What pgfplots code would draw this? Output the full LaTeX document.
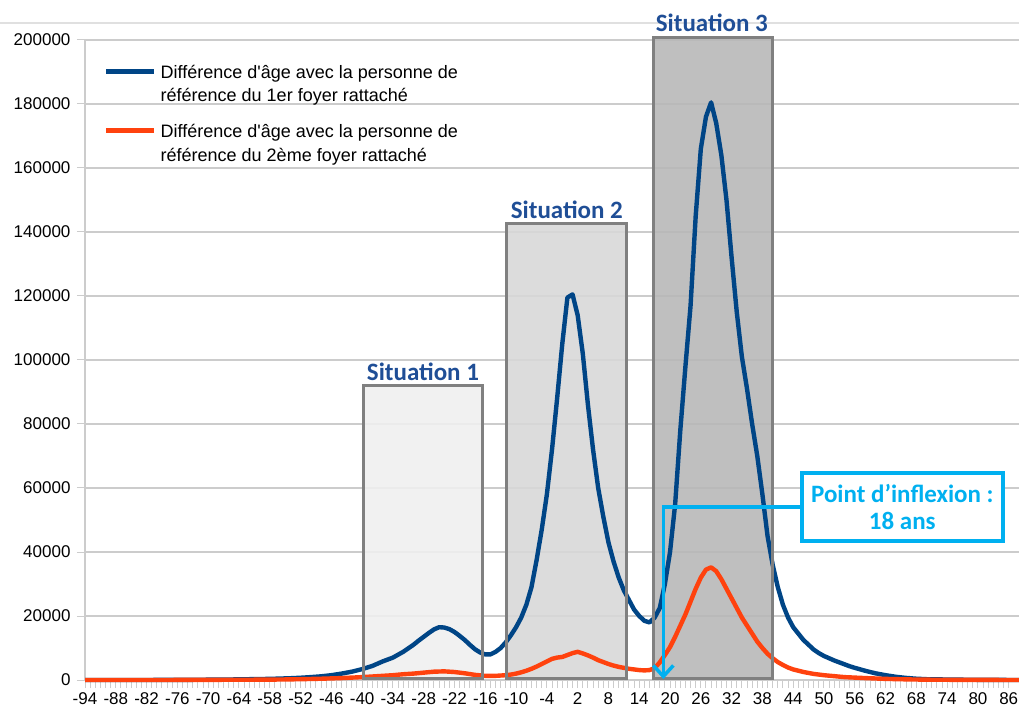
\documentclass[border=0pt]{standalone}
\usepackage{fontspec}
\setmainfont{Liberation Sans}
\newfontfamily\calibri{Carlito}
\usepackage{pgfplots}
\pgfplotsset{compat=1.18}
\usetikzlibrary{arrows.meta}
\definecolor{serA}{HTML}{004586}
\definecolor{serB}{HTML}{FF420E}
\definecolor{sitblue}{HTML}{1F4E96}
\definecolor{infl}{HTML}{00B0F0}
\definecolor{gridc}{HTML}{CCCCCC}
\definecolor{boxedge}{HTML}{808080}
\definecolor{fillA}{HTML}{EFEFEF}
\definecolor{fillB}{HTML}{D8D8D8}
\definecolor{fillC}{HTML}{B8B8B8}
\begin{document}
\begin{tikzpicture}
\path[use as bounding box] (0,0) rectangle (1019pt,715pt);
\draw[draw=black!12, line width=1.5pt] (0,692pt) -- (1019pt,692pt);
\begin{axis}[
  at={(85pt,35pt)}, anchor=south west,
  scale only axis, width=934pt, height=640pt,
  xmin=-94, xmax=88, ymin=0, ymax=200000,
  clip=false,
  axis lines=left,
  axis line style={-, draw=gridc, line width=1.3pt},
  ymajorgrids, grid style={draw=gridc, line width=1.3pt},
  xtick={-94,-88,...,86}, minor x tick num=5,
  xticklabels={-94,-88,-82,-76,-70,-64,-58,-52,-46,-40,-34,-28,-22,-16,-10,-4,2,8,14,20,26,32,38,44,50,56,62,68,74,80,86},
  ytick={0,20000,...,200000},
  yticklabels={0,20000,40000,60000,80000,100000,120000,140000,160000,180000,200000},
  scaled y ticks=false,
  tick align=outside,
  major tick length=8pt, minor tick length=8pt,
  every tick/.style={draw=gridc, line width=1pt},
  tick label style={font=\fontsize{17}{19}\selectfont, text=black},
  xticklabel style={yshift=-1pt},
  yticklabel style={xshift=-3pt},
  legend style={at={(0,1)}, anchor=north west, xshift=19pt, yshift=-23pt,
    draw=none, fill=none, inner sep=0pt, row sep=17pt, column sep=2pt,
    font=\fontsize{18}{23.5}\selectfont, nodes={align=left}},
  legend cell align=left,
  legend image code/.code={\draw[#1, line width=4.5pt] (0pt,13pt) -- (48pt,13pt);},
]
% boxes (backgrounds)
\fill[fillA, opacity=0.9] (axis cs:-39.8,500) rectangle (axis cs:-16.5,91900);
\fill[fillB, opacity=0.9] (axis cs:-11.8,500) rectangle (axis cs:11.6,142800);
\fill[fillC, opacity=0.9] (axis cs:16.7,500) rectangle (axis cs:40.0,200900);

\addplot[serA, line width=4.4pt, line join=round] coordinates {
(-94,0) (-90,0) (-86,0) (-82,0) (-78,50) (-74,50) (-70,100) (-66,150) (-62,250)
(-60,300) (-58,350) (-56,450) (-54,550) (-52,700) (-50,900) (-48,1150) (-46,1500)
(-44,2000) (-42,2600) (-41,3000) (-40,3400) (-39,3900) (-38,4400) (-37,5100)
(-36,5800) (-35,6400) (-34,7000) (-33,7900) (-32,8800) (-31,9900) (-30,11000)
(-29,12300) (-28,13500) (-27,14700) (-26,15800) (-25,16500) (-24,16400) (-23,15900)
(-22,15000) (-21,13800) (-20,12500) (-19,11000) (-18,9600) (-17,8600) (-16,8000)
(-15,8000) (-14,8800) (-13,10000) (-12,11800) (-11,14000) (-10,16500) (-9,19500)
(-8,23500) (-7,29000) (-6,37500) (-5,47000) (-4,58000) (-3,72000) (-2,88000)
(-1,105000) (0,119500) (1,120500) (2,114000) (3,102000) (4,86000) (5,72000)
(6,60000) (7,51000) (8,43000) (9,37000) (10,32000) (11,28000) (12,25000)
(13,22000) (14,20000) (15,18500) (16,18000) (17,19500) (18,22500) (19,30000)
(20,40000) (21,55000) (22,78000) (23,98000) (24,117000) (25,145000) (26,166000)
(27,176000) (28,180500) (29,174000) (30,164000) (31,150000) (32,132000)
(33,115000) (34,101000) (35,91000) (36,80000) (37,70000) (38,58000) (39,45000)
(40,36000) (41,29000) (42,23500) (43,19500) (44,16500) (45,14500) (46,12500)
(47,11000) (48,9500) (49,8400) (50,7500) (51,6800) (52,6100) (53,5500) (54,4900)
(55,4300) (56,3800) (58,2900) (60,2100) (62,1500) (64,1000) (66,650) (68,400)
(70,250) (74,150) (78,80) (82,40) (88,0)
};
\addlegendentry{Différence d\textquotesingle âge avec la personne de\\référence du 1er foyer rattaché}

\addplot[serB, line width=4.4pt, line join=round] coordinates {
(-94,0) (-80,0) (-70,50) (-60,100) (-56,150) (-52,250) (-48,400) (-44,600)
(-40,900) (-38,1100) (-36,1300) (-34,1500) (-32,1800) (-30,2000) (-28,2300)
(-26,2600) (-24,2700) (-22,2500) (-20,2100) (-18,1600) (-16,1300) (-14,1300)
(-12,1500) (-11,1700) (-10,2000) (-9,2400) (-8,2900) (-7,3500) (-6,4200)
(-5,5000) (-4,5800) (-3,6600) (-2,7000) (-1,7200) (0,7800) (1,8400) (2,8800)
(3,8300) (4,7700) (5,7000) (6,6200) (7,5600) (8,5000) (9,4500) (10,4100)
(11,3800) (12,3500) (13,3300) (14,3100) (15,3000) (16,3100) (17,3700) (18,5500)
(19,7800) (20,10300) (21,13500) (22,17000) (23,20500) (24,24500) (25,28500)
(26,32000) (27,34500) (28,35200) (29,34000) (30,31500) (31,28500) (32,25500)
(33,22500) (34,19500) (35,17000) (36,14500) (37,12000) (38,10000) (39,8200)
(40,6800) (41,5600) (42,4700) (43,3900) (44,3300) (46,2500) (48,1900) (50,1500)
(52,1200) (54,900) (58,600) (62,350) (66,200) (70,100) (76,50) (88,0)
};
\addlegendentry{Différence d\textquotesingle âge avec la personne de\\référence du 2ème foyer rattaché}

% box borders
\draw[boxedge, line width=3pt] (axis cs:-39.8,500) rectangle (axis cs:-16.5,91900);
\draw[boxedge, line width=3pt] (axis cs:-11.8,500) rectangle (axis cs:11.6,142800);
\draw[boxedge, line width=3pt] (axis cs:16.7,500) rectangle (axis cs:40.0,200900);

% labels
\node[anchor=base, text=sitblue, font=\calibri\bfseries\fontsize{25}{27}\selectfont, yshift=5pt]
  at (axis cs:-28.15,91900) {Situation 1};
\node[anchor=base, text=sitblue, font=\calibri\bfseries\fontsize{25}{27}\selectfont, yshift=5pt]
  at (axis cs:-0.1,142800) {Situation 2};
\node[anchor=base, text=sitblue, font=\calibri\bfseries\fontsize{25}{27}\selectfont, yshift=6pt]
  at (axis cs:28.15,200900) {Situation 3};

% inflection annotation
\draw[infl, line width=3.5pt, -{Straight Barb[length=11pt,width=20pt,line width=3.5pt]}]
  (axis cs:45.5,54100) -- (axis cs:18.7,54100) -- (axis cs:18.7,300);
\node[draw=infl, line width=3.5pt, fill=white, text=infl, align=center,
  minimum width=201pt, minimum height=68pt, inner sep=2pt,
  font=\calibri\bfseries\fontsize{25}{27}\selectfont]
  at (axis cs:65.26,54060) {Point d’inflexion :\\18 ans};
\end{axis}
\end{tikzpicture}
\end{document}
